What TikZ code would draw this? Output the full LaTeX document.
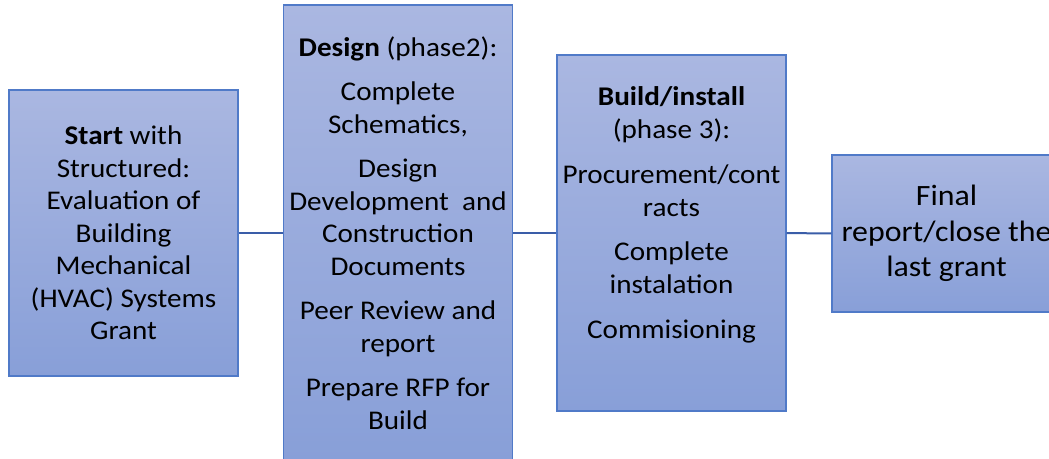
\documentclass[tikz,border=0pt]{standalone}
\usepackage{fontspec}
\setmainfont{Carlito}[FakeStretch=1.08]
\usetikzlibrary{positioning}

\definecolor{boxtop}{RGB}{170,183,225}
\definecolor{boxbottom}{RGB}{136,159,216}
\definecolor{boxline}{RGB}{80,122,200}
\definecolor{linkline}{RGB}{58,93,168}

\tikzset{
	phase/.style={draw=boxline, line width=1.2pt, top color=boxtop, bottom color=boxbottom,
		minimum width=229pt, align=center, inner sep=0pt,
		font=\fontsize{27}{32.5}\selectfont},
	link/.style={draw=linkline, line width=2pt}
}

\begin{document}
\begin{tikzpicture}[x=1pt,y=1pt]
	\useasboundingbox (0,0) rectangle (1049,-458);

	% start
	\node[phase, minimum height=286pt] (start) at (123.5,-233)
		{\textbf{Start} with\\Structured:\\Evaluation of\\Building\\Mechanical\\(HVAC) Systems\\Grant};

	% design phase
	\node[phase, minimum height=456pt] (design) at (398,-233)
		{\textbf{Design} (phase2):\\[12pt]Complete\\Schematics,\\[12pt]Design\\Development\ \ and\\Construction\\Documents\\[12pt]Peer Review and\\report\\[12pt]Prepare RFP for\\Build};

	% build phase
	\node[phase, minimum height=356pt] (build) at (671.5,-233)
		{\textbf{Build/install}\\(phase 3):\\[13pt]Procurement/cont\\racts\\[12pt]Complete\\instalation\\[13pt]Commisioning\\[8pt]\mbox{}};

	% final
	\node[phase, minimum height=157pt, font=\fontsize{29.5}{35.5}\selectfont] (final) at (946.5,-233.5)
		{Final\\report/close the\\last grant};

	% links
	\foreach \a/\b in {start/design, design/build, build/final}
	\draw[link] (\a) -- (\b);

\end{tikzpicture}
\end{document}
